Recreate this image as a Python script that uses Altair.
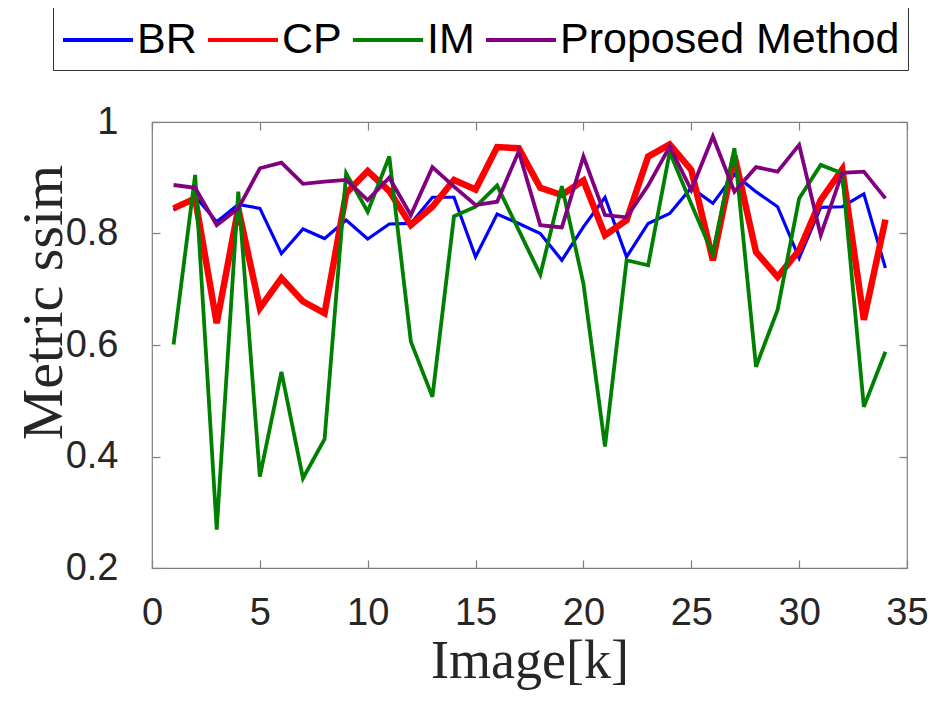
import altair as alt
import pandas as pd

image_k = list(range(1, 35))
br = [0.842, 0.867, 0.821, 0.852, 0.845, 0.764, 0.808, 0.791, 0.824, 0.790, 0.817, 0.818, 0.865, 0.865,
      0.758, 0.835, 0.818, 0.800, 0.752, 0.812, 0.865, 0.758, 0.818, 0.836, 0.882, 0.854, 0.906, 0.875,
      0.848, 0.756, 0.847, 0.848, 0.871, 0.738]
cp = [0.845, 0.863, 0.639, 0.845, 0.666, 0.720, 0.678, 0.657, 0.872, 0.912, 0.876, 0.815, 0.848, 0.896,
      0.879, 0.955, 0.953, 0.882, 0.869, 0.895, 0.797, 0.824, 0.938, 0.960, 0.914, 0.752, 0.940, 0.767,
      0.722, 0.770, 0.860, 0.915, 0.645, 0.825]
im = [0.601, 0.905, 0.269, 0.875, 0.364, 0.552, 0.361, 0.431, 0.908, 0.839, 0.938, 0.606, 0.507, 0.831,
      0.848, 0.886, 0.806, 0.726, 0.885, 0.710, 0.418, 0.752, 0.743, 0.946, 0.853, 0.763, 0.953, 0.561,
      0.663, 0.863, 0.923, 0.908, 0.489, 0.588]
proposed = [0.887, 0.882, 0.815, 0.845, 0.917, 0.927, 0.889, 0.893, 0.896, 0.860, 0.900, 0.833, 0.919,
            0.884, 0.851, 0.857, 0.947, 0.815, 0.811, 0.938, 0.833, 0.829, 0.886, 0.956, 0.878, 0.974,
            0.875, 0.919, 0.911, 0.959, 0.797, 0.909, 0.911, 0.863]

methods = ["BR", "CP", "IM", "Proposed Method"]
colors = ["#0000FF", "#FF0000", "#008000", "#800080"]
widths = [3.2, 6.5, 3.8, 3.8]

rows = []
for name, w, vals in zip(methods, widths, [br, cp, im, proposed]):
    for k, v in zip(image_k, vals):
        rows.append({"k": k, "ssim": v, "method": name, "lw": w})
df = pd.DataFrame(rows)

tick_font = "Liberation Sans"
title_font = "Liberation Serif"

x_scale = alt.Scale(domain=[0, 35], nice=False, zero=False)
y_scale = alt.Scale(domain=[0.2, 1.0], nice=False, zero=False)
ylabel = "datum.value == 1 ? '1' : format(datum.value, '.1f')"
xticks = [0, 5, 10, 15, 20, 25, 30, 35]
yticks = [0.2, 0.4, 0.6, 0.8, 1.0]

base = alt.Chart(df)

lines = base.mark_line().encode(
    x=alt.X("k:Q", scale=x_scale,
            axis=alt.Axis(orient="bottom", values=xticks, domain=False, labelFlush=False,
                          offset=-8, tickSize=8, labelPadding=26, grid=False,
                          title="Image[k]", titleFont=title_font, titleFontSize=54,
                          titleFontWeight="normal", titlePadding=2)),
    y=alt.Y("ssim:Q", scale=y_scale,
            axis=alt.Axis(orient="left", values=yticks, domain=False, labelFlush=False,
                          offset=-8, tickSize=8, labelPadding=34, grid=False, labelExpr=ylabel,
                          title="Metric ssim", titleFont=title_font, titleFontSize=58,
                          titleFontWeight="normal", titleBaseline="middle",
                          titleX=-116, titleY=180)),
    color=alt.Color("method:N", scale=alt.Scale(domain=methods, range=colors),
                    legend=alt.Legend(orient="none", legendX=-99, legendY=-117, direction="horizontal",
                                      title=None, symbolType="M-1,0H1.8", symbolSize=2500,
                                      symbolStrokeWidth=4, labelFont=tick_font, labelFontSize=43,
                                      labelOffset=22, columnPadding=3, padding=8,
                                      strokeColor="#333333", fillColor="#ffffff",
                                      labelColor="#000000", labelLimit=600)),
    strokeWidth=alt.StrokeWidth("lw:Q", scale=None),
    order=alt.Order("k:Q"),
)

top_right = base.mark_line(opacity=0).encode(
    x=alt.X("k:Q", scale=x_scale,
            axis=alt.Axis(orient="top", values=xticks, domain=False,
                          offset=-8, tickSize=8, labels=False, title=None, grid=False)),
    y=alt.Y("ssim:Q", scale=y_scale,
            axis=alt.Axis(orient="right", values=yticks, domain=False,
                          offset=-8, tickSize=8, labels=False, title=None, grid=False)),
    detail="method:N",
)

chart = alt.layer(lines, top_right).resolve_axis(x="independent", y="independent").properties(
    width=755, height=446,
    autosize=alt.AutoSizeParams(type="none"),
    padding={"left": 144, "top": 114, "right": 23, "bottom": 126},
).configure_view(stroke="#7f7f7f", strokeWidth=1.2).configure_axis(
    labelFont=tick_font, labelFontSize=38, labelColor="#262626",
    tickColor="#7f7f7f", tickWidth=1.2, titleColor="#262626",
)

chart.save("out.html", embed_options={"renderer": "svg", "actions": False})
